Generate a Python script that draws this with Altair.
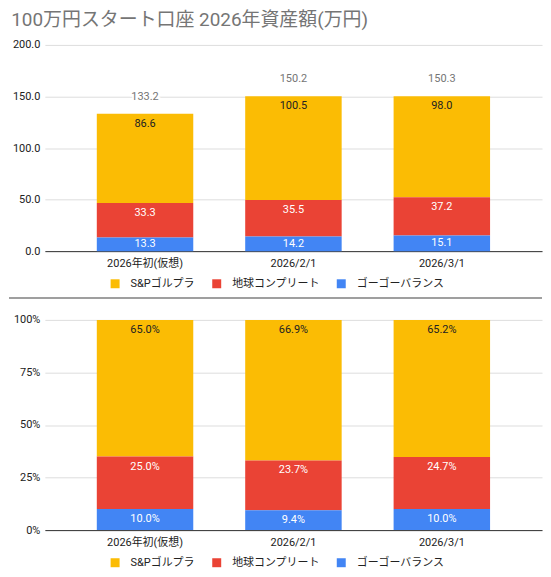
import altair as alt
import pandas as pd

cats = ["2026年初(仮想)", "2026/2/1", "2026/3/1"]
series = ["S&Pゴルプラ", "地球コンプリート", "ゴーゴーバランス"]
colors = ["#FBBC04", "#EA4335", "#4285F4"]

sp_vals = [86.6, 100.5, 98.0]
chikyu_vals = [33.3, 35.5, 37.2]
gogo_vals = [13.3, 14.2, 15.1]
totals = [133.2, 150.2, 150.3]

sp_pct = [65.0, 66.9, 65.2]
chikyu_pct = [25.0, 23.7, 24.7]
gogo_pct = [10.0, 9.4, 10.0]

FONT = "Roboto, 'Noto Sans CJK JP', sans-serif"

rows = []
for s_i, (name, vals, pcts) in enumerate(zip(series, [sp_vals, chikyu_vals, gogo_vals],
                                              [sp_pct, chikyu_pct, gogo_pct])):
    for c, v, p in zip(cats, vals, pcts):
        rows.append({"cat": c, "series": name, "value": v, "pct": p, "ord": 2 - s_i})
df = pd.DataFrame(rows)
df_tot = pd.DataFrame({"cat": cats, "total": totals})

W = 499
H1 = 207
H2 = 211

xenc = alt.X("cat:N", sort=cats, title=None,
             scale=alt.Scale(paddingInner=0.35, paddingOuter=0.35),
             axis=alt.Axis(labelAngle=0, labelPadding=6, ticks=False, domainColor="#333333",
                           domainWidth=1, labelColor="#222222", labelFontSize=11, grid=False))

def legend(h):
    return alt.Legend(title=None, orient="none", direction="horizontal", legendX=65, legendY=h + 27,
                      symbolType="square", symbolSize=81, symbolStrokeWidth=0, symbolOpacity=1,
                      labelFontSize=11, labelColor="#222222", labelOffset=10, columnPadding=16,
                      padding=0, labelFont=FONT)

def color(h):
    return alt.Color("series:N", scale=alt.Scale(domain=series, range=colors), legend=legend(h))

# ---------- top chart: absolute values ----------
base1 = alt.Chart(df).transform_stack(
    stack="value", groupby=["cat"], as_=["v0", "v1"], sort=[alt.SortField("ord", order="ascending")]
).transform_calculate(mid="(datum.v0 + datum.v1) / 2", label="format(datum.value, '.1f')")

yscale1 = alt.Scale(domain=[0, 200])
bars1 = base1.mark_bar().encode(
    x=xenc,
    y=alt.Y("v1:Q", scale=yscale1, title=None,
            axis=alt.Axis(values=[0, 50, 100, 150, 200], format=".1f", domain=False, ticks=False,
                          labelPadding=5, gridColor="#dddddd", labelColor="#222222", labelFontSize=11)),
    y2="v0:Q",
    color=color(H1),
)
lab_top = base1.transform_filter("datum.ord == 2").mark_text(
    baseline="middle", dy=10, fontSize=11, color="#222222", font=FONT
).encode(x=alt.X("cat:N", sort=cats), y="v1:Q", text="label:N")
lab_red = base1.transform_filter("datum.ord == 1").mark_text(
    baseline="middle", dy=10, fontSize=11, color="#ffffff", font=FONT
).encode(x=alt.X("cat:N", sort=cats), y="v1:Q", text="label:N")
lab_blue = base1.transform_filter("datum.ord == 0").mark_text(
    baseline="middle", dy=0, fontSize=11, color="#ffffff", font=FONT
).encode(x=alt.X("cat:N", sort=cats), y="mid:Q", text="label:N")

tot_base = alt.Chart(df_tot).transform_calculate(label="format(datum.total, '.1f')")
tot_halo = tot_base.mark_text(baseline="middle", dy=-17, fontSize=11, color="#ffffff",
                              stroke="#ffffff", strokeWidth=4, font=FONT).encode(
    x=alt.X("cat:N", sort=cats), y="total:Q", text="label:N")
tot_text = tot_base.mark_text(baseline="middle", dy=-17, fontSize=11, color="#757575", font=FONT).encode(
    x=alt.X("cat:N", sort=cats), y="total:Q", text="label:N")

top = alt.layer(bars1, lab_top, lab_red, lab_blue, tot_halo, tot_text).properties(width=W, height=H1)

# ---------- bottom chart: percentages ----------
base2 = alt.Chart(df).transform_stack(
    stack="value", groupby=["cat"], as_=["v0", "v1"], offset="normalize",
    sort=[alt.SortField("ord", order="ascending")]
).transform_calculate(label="format(datum.pct, '.1f') + '%'")

bars2 = base2.mark_bar().encode(
    x=xenc,
    y=alt.Y("v1:Q", scale=alt.Scale(domain=[0, 1]), title=None,
            axis=alt.Axis(values=[0, 0.25, 0.5, 0.75, 1], format=".0%", domain=False, ticks=False,
                          labelPadding=5, gridColor="#dddddd", labelColor="#222222", labelFontSize=11)),
    y2="v0:Q",
    color=color(H2),
)
lab2_dark = base2.transform_filter("datum.ord == 2").mark_text(
    baseline="middle", dy=10, fontSize=11, color="#222222", font=FONT
).encode(x=alt.X("cat:N", sort=cats), y="v1:Q", text="label:N")
lab2_white = base2.transform_filter("datum.ord < 2").mark_text(
    baseline="middle", dy=10, fontSize=11, color="#ffffff", font=FONT
).encode(x=alt.X("cat:N", sort=cats), y="v1:Q", text="label:N")

divider = alt.Chart(df_tot).mark_rule(color="#9e9e9e", strokeWidth=1.5).encode(
    x=alt.value(-36), x2=alt.value(W), y=alt.value(-22))

bottom = alt.layer(bars2, lab2_dark, lab2_white, divider).properties(width=W, height=H2)

chart = alt.vconcat(top, bottom, spacing=69, bounds="flush").resolve_scale(
    color="independent"
).properties(
    title=alt.TitleParams("100万円スタート口座 2026年資産額(万円)", anchor="start", fontSize=19,
                          color="#757575", fontWeight="normal", font=FONT, offset=9, dx=3),
    padding={"left": 0, "top": 2, "right": 0, "bottom": 0},
).configure(font=FONT).configure_view(stroke=None)

chart.save("out.html", embed_options={"renderer": "svg", "actions": False})
